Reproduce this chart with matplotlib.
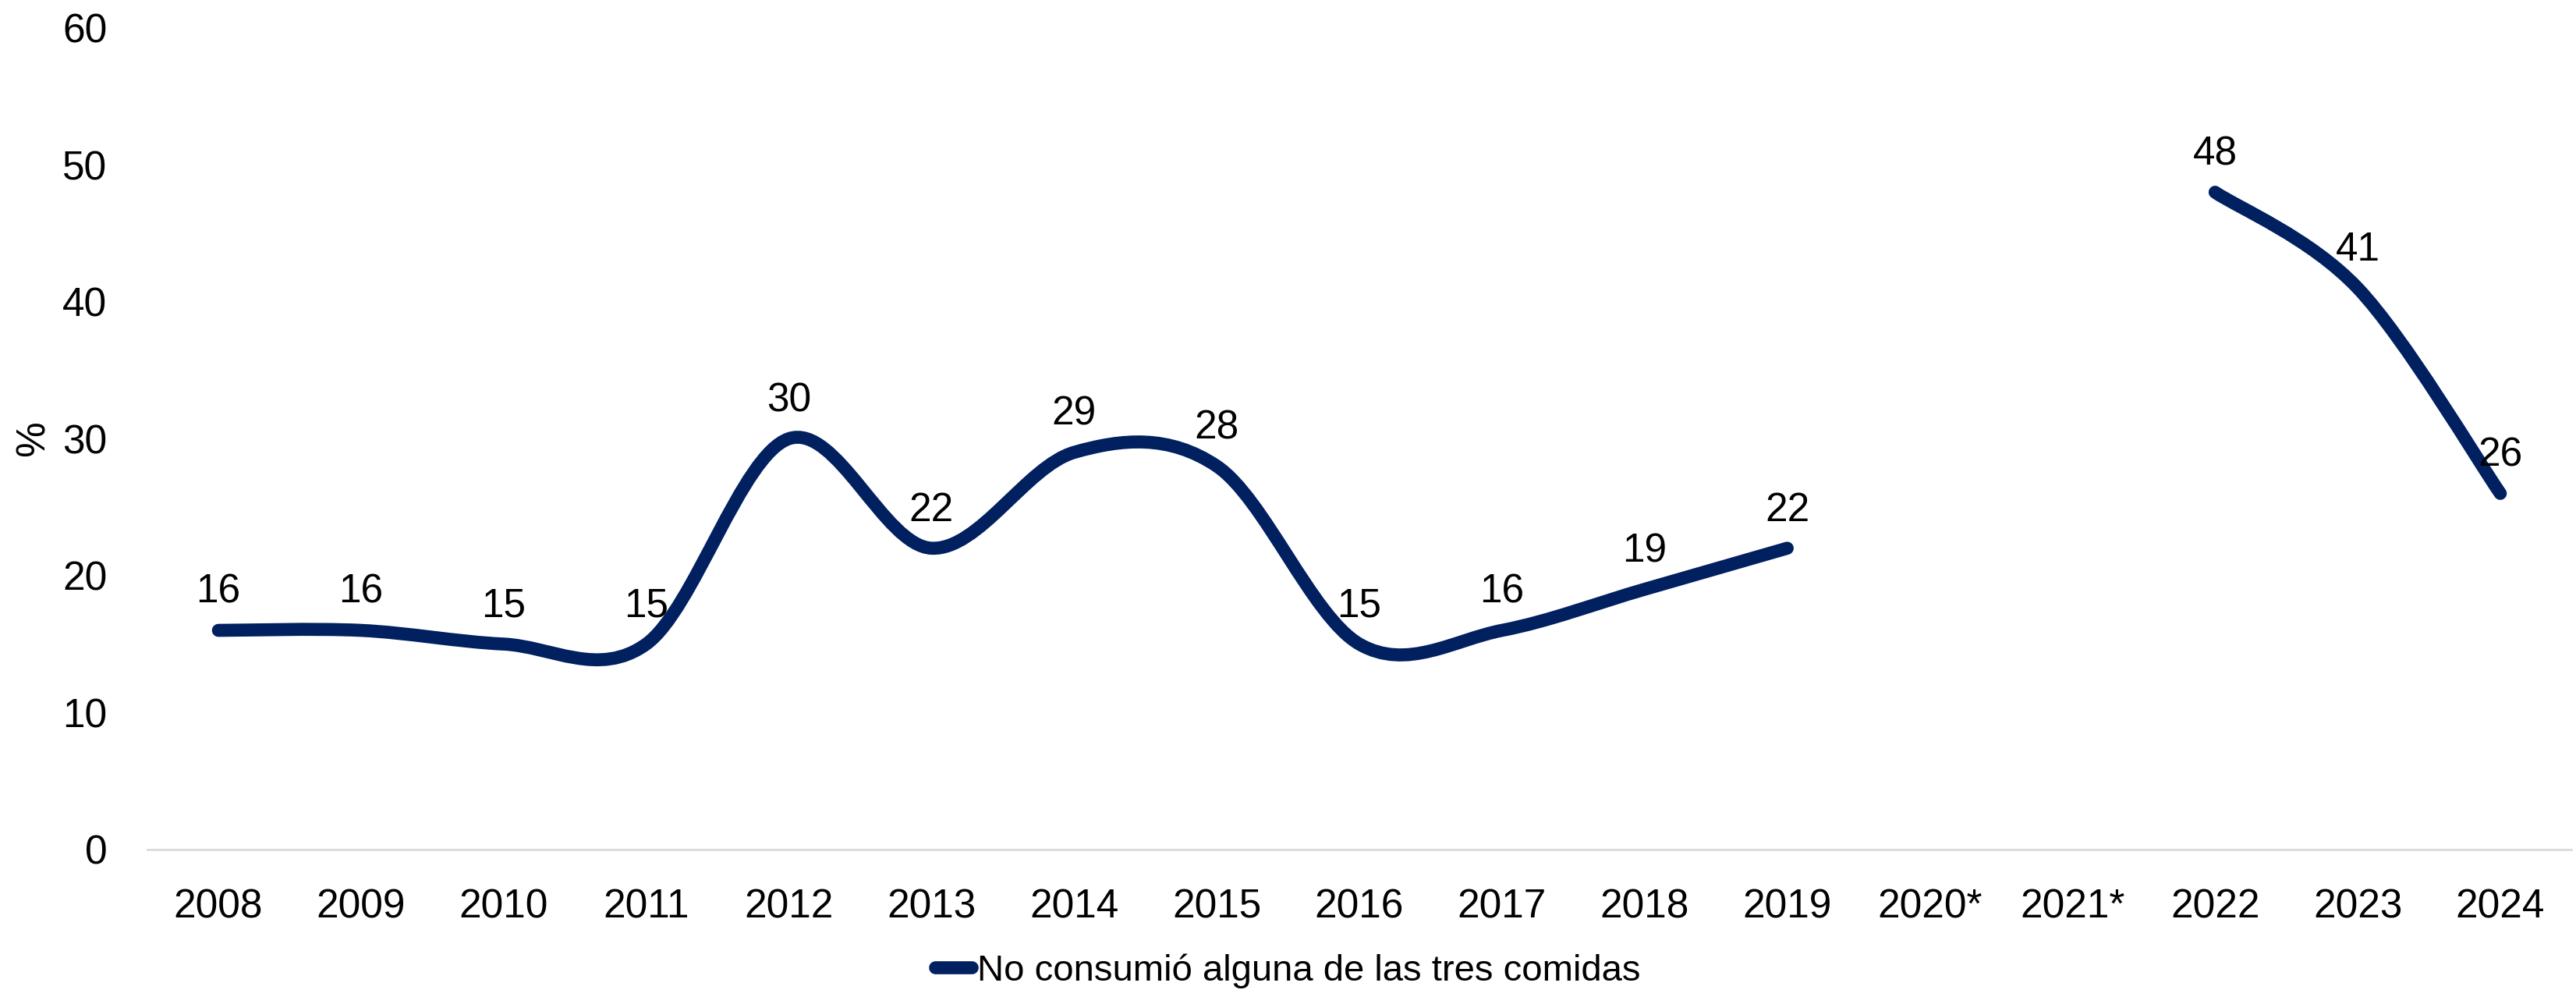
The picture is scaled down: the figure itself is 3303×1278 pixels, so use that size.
import numpy as np
import matplotlib
matplotlib.use("Agg")
import matplotlib.pyplot as plt
from matplotlib.path import Path
from matplotlib.patches import PathPatch
from matplotlib.lines import Line2D

plt.rcParams['font.family'] = ['Liberation Sans Narrow', 'Liberation Sans', 'DejaVu Sans']

years = ["2008", "2009", "2010", "2011", "2012", "2013", "2014", "2015", "2016",
         "2017", "2018", "2019", "2020*", "2021*", "2022", "2023", "2024"]
values = [16, 16, 15, 15, 30, 22, 29, 28, 15, 16, 19, 22, None, None, 48, 41, 26]
series_name = "No consumió alguna de las tres comidas"
yticks = [0, 10, 20, 30, 40, 50, 60]

COLOR = "#002060"
FS = 37
LW = 12

fig = plt.figure(figsize=(33.03, 12.78), dpi=100)
ax = fig.add_axes([0.0571, 0.148, 0.9412, 0.824])

# split into contiguous runs (gaps where no data)
runs = []
cur = []
for i, v in enumerate(values):
    if v is None:
        if cur:
            runs.append(cur)
        cur = []
    else:
        cur.append((i, v))
if cur:
    runs.append(cur)

def smooth_path(pts):
    P = np.array(pts, dtype=float)
    n = len(P)
    verts = [P[0]]
    codes = [Path.MOVETO]
    for k in range(n - 1):
        p0 = P[k - 1] if k > 0 else P[k]
        p1 = P[k]
        p2 = P[k + 1]
        p3 = P[k + 2] if k + 2 < n else P[k + 1]
        c1 = p1 + (p2 - p0) / 6.0
        c2 = p2 - (p3 - p1) / 6.0
        verts += [c1, c2, p2]
        codes += [Path.CURVE4] * 3
    return Path(verts, codes)

for run in runs:
    path = smooth_path(run)
    patch = PathPatch(path, facecolor='none', edgecolor=COLOR, lw=LW,
                      capstyle='round', joinstyle='round')
    ax.add_patch(patch)

for i, v in enumerate(values):
    if v is None:
        continue
    ax.annotate(f"{v}", (i, v), xytext=(0, 35), textcoords='offset points',
                ha='center', va='center', fontsize=FS, color='black')

ax.set_xlim(-0.5, len(years) - 0.5)
ax.set_ylim(0, 60)
ax.set_xticks(range(len(years)))
ax.set_xticklabels(years, fontsize=FS)
ax.set_yticks(yticks)
ax.set_yticklabels([str(t) for t in yticks], fontsize=FS)
ax.tick_params(axis='x', length=0, pad=36)
ax.tick_params(axis='y', length=0, pad=37)
for s in ['top', 'right', 'left']:
    ax.spines[s].set_visible(False)
ax.spines['bottom'].set_color('#D9D9D9')
ax.spines['bottom'].set_linewidth(2)
ax.set_ylabel('%', fontsize=FS)
ax.yaxis.set_label_coords(-0.039, 0.5)

handle = Line2D([0], [0], color=COLOR, lw=LW, solid_capstyle='round')
fig.legend([handle], [series_name], loc='center', bbox_to_anchor=(0.5, 0.026),
           frameon=False, fontsize=34, handlelength=1.0, handletextpad=0.15)

fig.savefig("out.png", dpi=100)
